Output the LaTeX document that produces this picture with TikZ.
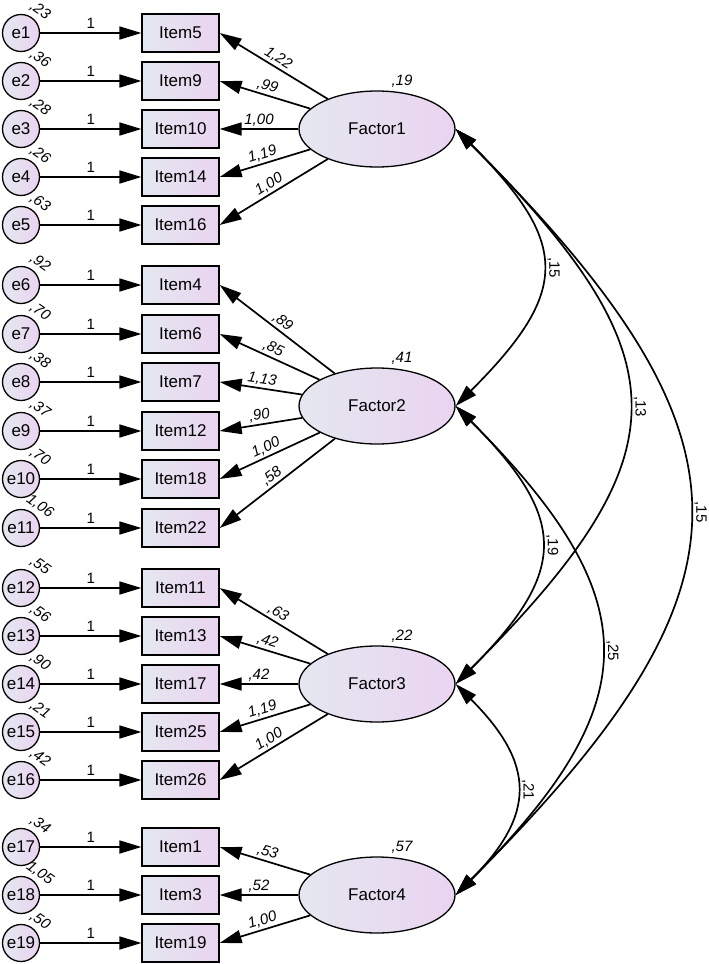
\documentclass[tikz,border=0pt]{standalone}
\usepackage{fontspec}
\setmainfont{Liberation Sans}
\usetikzlibrary{arrows.meta}
\usetikzlibrary{shapes.geometric}

\definecolor{amosL}{RGB}{228,231,240}
\definecolor{amosR}{RGB}{234,212,240}

\begin{document}
\begin{tikzpicture}[x=1pt,y=-1pt]
\useasboundingbox (0,0) rectangle (709,964);
				% error terms
				\begin{scope}[every node/.style = {circle, draw, line width=1.3pt,
						left color=amosL, right color=amosR, minimum size=37pt, inner sep=0pt,
						font=\fontsize{17}{19}\selectfont}]
					\node (e1) at (21,33) {e1};
					\node (e2) at (21,81) {e2};
					\node (e3) at (21,129) {e3};
					\node (e4) at (21,177) {e4};
					\node (e5) at (21,225) {e5};
					\node (e6) at (21,285) {e6};
					\node (e7) at (21,334) {e7};
					\node (e8) at (21,382) {e8};
					\node (e9) at (21,431) {e9};
					\node (e10) at (21,479) {e10};
					\node (e11) at (21,528) {e11};
					\node (e12) at (21,588) {e12};
					\node (e13) at (21,636) {e13};
					\node (e14) at (21,684) {e14};
					\node (e15) at (21,732) {e15};
					\node (e16) at (21,780) {e16};
					\node (e17) at (21,847) {e17};
					\node (e18) at (21,895) {e18};
					\node (e19) at (21,943) {e19};
				\end{scope}
				% observed items
				\begin{scope}[every node/.style = {rectangle, draw, line width=1.3pt,
						left color=amosL, right color=amosR, minimum width=77pt, minimum height=38pt,
						inner sep=0pt, font=\fontsize{17}{19}\selectfont}]
					\node (I5) at (180.5,33) {Item5};
					\node (I9) at (180.5,81) {Item9};
					\node (I10) at (180.5,129) {Item10};
					\node (I14) at (180.5,177) {Item14};
					\node (I16) at (180.5,225) {Item16};
					\node (I4) at (180.5,285) {Item4};
					\node (I6) at (180.5,334) {Item6};
					\node (I7) at (180.5,382) {Item7};
					\node (I12) at (180.5,431) {Item12};
					\node (I18) at (180.5,479) {Item18};
					\node (I22) at (180.5,528) {Item22};
					\node (I11) at (180.5,588) {Item11};
					\node (I13) at (180.5,636) {Item13};
					\node (I17) at (180.5,684) {Item17};
					\node (I25) at (180.5,732) {Item25};
					\node (I26) at (180.5,780) {Item26};
					\node (I1) at (180.5,847) {Item1};
					\node (I3) at (180.5,895) {Item3};
					\node (I19) at (180.5,943) {Item19};
				\end{scope}
				% factors
				\begin{scope}[every node/.style = {ellipse, draw, line width=1.3pt,
						left color=amosL, right color=amosR, minimum width=156pt, minimum height=76pt,
						font=\fontsize{17}{19}\selectfont}]
					\node (F1) at (377,129) {Factor1};
					\node (F2) at (377,406) {Factor2};
					\node (F3) at (377,684) {Factor3};
					\node (F4) at (377,895) {Factor4};
				\end{scope}
				% variances
				\begin{scope}[every node/.style = {inner sep=0pt, font=\fontsize{15}{17}\selectfont\itshape}]
					\node[rotate=-35] (v1) at (40,11) {,23};
					\node[rotate=-35] (v2) at (40,59) {,36};
					\node[rotate=-35] (v3) at (40,107) {,28};
					\node[rotate=-35] (v4) at (40,155) {,26};
					\node[rotate=-35] (v5) at (40,203) {,63};
					\node[rotate=-35] (v6) at (40,263) {,92};
					\node[rotate=-35] (v7) at (40,312) {,70};
					\node[rotate=-35] (v8) at (40,360) {,38};
					\node[rotate=-35] (v9) at (40,409) {,37};
					\node[rotate=-35] (v10) at (40,457) {,70};
					\node[rotate=-35] (v11) at (40,506) {1,06};
					\node[rotate=-35] (v12) at (40,566) {,55};
					\node[rotate=-35] (v13) at (40,614) {,56};
					\node[rotate=-35] (v14) at (40,662) {,90};
					\node[rotate=-35] (v15) at (40,710) {,21};
					\node[rotate=-35] (v16) at (40,758) {,42};
					\node[rotate=-35] (v17) at (40,825) {,34};
					\node[rotate=-35] (v18) at (40,873) {1,05};
					\node[rotate=-35] (v19) at (40,921) {,50};
					\node (vF1) at (402,81) {,19};
					\node (vF2) at (402,358) {,41};
					\node (vF3) at (402,636) {,22};
					\node (vF4) at (402,847) {,57};
				\end{scope}
				% paths
				\begin{scope}[>={Triangle[length=22pt,width=13pt]},
						every edge/.style={draw=black, line width=1.7pt},
						one/.style={above, inner sep=4pt, font=\fontsize{15}{17}\selectfont},
						ld/.style={sloped, above, inner sep=2pt, font=\fontsize{15}{17}\selectfont\itshape},
						cv/.style={rotate=-90, anchor=south, inner sep=5pt, font=\fontsize{15}{17}\selectfont}]
					\path [->] (e1) edge node[one] {1} (I5);
					\path [->] (e2) edge node[one] {1} (I9);
					\path [->] (e3) edge node[one] {1} (I10);
					\path [->] (e4) edge node[one] {1} (I14);
					\path [->] (e5) edge node[one] {1} (I16);
					\path [->] (e6) edge node[one] {1} (I4);
					\path [->] (e7) edge node[one] {1} (I6);
					\path [->] (e8) edge node[one] {1} (I7);
					\path [->] (e9) edge node[one] {1} (I12);
					\path [->] (e10) edge node[one] {1} (I18);
					\path [->] (e11) edge node[one] {1} (I22);
					\path [->] (e12) edge node[one] {1} (I11);
					\path [->] (e13) edge node[one] {1} (I13);
					\path [->] (e14) edge node[one] {1} (I17);
					\path [->] (e15) edge node[one] {1} (I25);
					\path [->] (e16) edge node[one] {1} (I26);
					\path [->] (e17) edge node[one] {1} (I1);
					\path [->] (e18) edge node[one] {1} (I3);
					\path [->] (e19) edge node[one] {1} (I19);

					\path [->] (F1) edge node[ld] {1,22} (I5.east);
					\path [->] (F1) edge node[ld] {,99} (I9.east);
					\path [->] (F1) edge node[ld] {1,00} (I10.east);
					\path [->] (F1) edge node[ld] {1,19} (I14.east);
					\path [->] (F1) edge node[ld] {1,00} (I16.east);
					\path [->] (F2) edge node[ld] {,89} (I4.east);
					\path [->] (F2) edge node[ld] {,85} (I6.east);
					\path [->] (F2) edge node[ld] {1,13} (I7.east);
					\path [->] (F2) edge node[ld] {,90} (I12.east);
					\path [->] (F2) edge node[ld] {1,00} (I18.east);
					\path [->] (F2) edge node[ld] {,58} (I22.east);
					\path [->] (F3) edge node[ld] {,63} (I11.east);
					\path [->] (F3) edge node[ld] {,42} (I13.east);
					\path [->] (F3) edge node[ld] {,42} (I17.east);
					\path [->] (F3) edge node[ld] {1,19} (I25.east);
					\path [->] (F3) edge node[ld] {1,00} (I26.east);
					\path [->] (F4) edge node[ld] {,53} (I1.east);
					\path [->] (F4) edge node[ld] {,52} (I3.east);
					\path [->] (F4) edge node[ld] {1,00} (I19.east);

					\path [<->] (F1.east) edge[out=-45, in=45, looseness=1.5] node[cv] {,15} (F2.east);
					\path [<->] (F1.east) edge[out=-45, in=45, looseness=1.5] node[cv] {,13} (F3.east);
					\path [<->] (F1.east) edge[out=-45, in=45, looseness=1.47] node[cv] {,15} (F4.east);
					\path [<->] (F2.east) edge[out=-45, in=45, looseness=1.47] node[cv] {,19} (F3.east);
					\path [<->] (F2.east) edge[out=-45, in=45, looseness=1.43] node[cv] {,25} (F4.east);
					\path [<->] (F3.east) edge[out=-45, in=45, looseness=1.38] node[cv] {,21} (F4.east);
				\end{scope}
			\end{tikzpicture}
\end{document}
